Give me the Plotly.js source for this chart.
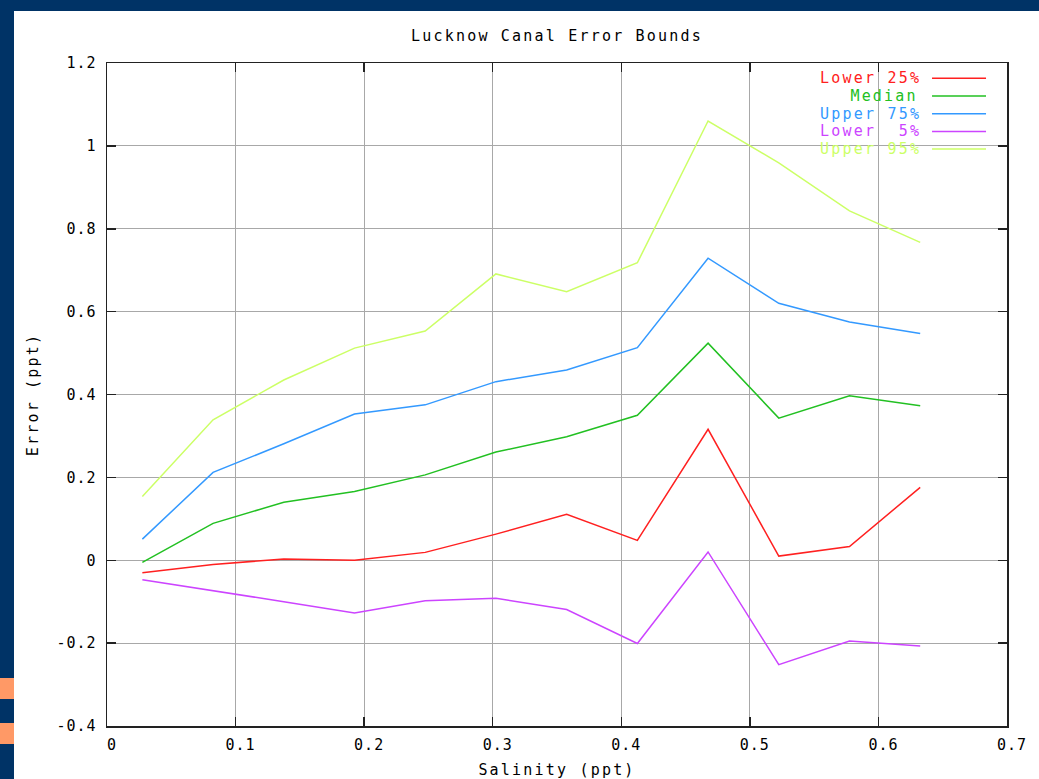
<!DOCTYPE html>
<html>
<head>
<meta charset="utf-8">
<script src="https://cdn.plot.ly/plotly-3.0.1.min.js"></script>
<style>
  html, body { margin: 0; padding: 0; background: #003366; width: 1039px; height: 779px; overflow: hidden; }
  #frame { position: absolute; left: 14px; top: 11px; width: 1025px; height: 768px; background: #ffffff; }
  .orange { position: absolute; left: 0; width: 14px; background: #ff9966; }
  #chart text { letter-spacing: 2.2px !important; }
  #chart .xtick text, #chart .ytick text, #chart text.xtick, #chart text.ytick { letter-spacing: 1px !important; }
</style>
</head>
<body>
<div class="orange" style="top:678px;height:21px;"></div>
<div class="orange" style="top:723px;height:21px;"></div>
<div id="frame"><div id="chart" style="width:1025px;height:768px;"></div></div>
<script>
// ---- data ----
const salinity = [0.0275, 0.0825, 0.1375, 0.1925, 0.2475, 0.3025, 0.3575, 0.4125, 0.4675, 0.5225, 0.5775, 0.6325];
const lower25  = [-0.030, -0.010, 0.003, 0.000, 0.019, 0.063, 0.111, 0.048, 0.316, 0.010, 0.033, 0.176];
const median   = [-0.005, 0.089, 0.140, 0.166, 0.206, 0.261, 0.298, 0.350, 0.524, 0.343, 0.397, 0.373];
const upper75  = [0.051, 0.212, 0.281, 0.353, 0.375, 0.431, 0.459, 0.513, 0.729, 0.620, 0.575, 0.547];
const lower5   = [-0.047, -0.073, -0.100, -0.127, -0.098, -0.092, -0.119, -0.201, 0.020, -0.252, -0.195, -0.207];
const upper95  = [0.154, 0.339, 0.435, 0.512, 0.553, 0.691, 0.648, 0.718, 1.060, 0.959, 0.843, 0.767];

const seriesNames  = ["Lower 25%", "Median", "Upper 75%", "Lower  5%", "Upper 95%"];
const seriesValues = [lower25, median, upper75, lower5, upper95];
const seriesColors = ["#ff2020", "#22c022", "#3399ff", "#cc44ff", "#ccff66"];

const xTickVals = [0, 0.1, 0.2, 0.3, 0.4, 0.5, 0.6, 0.7];
const xTickText = ["0", "0.1", "0.2", "0.3", "0.4", "0.5", "0.6", "0.7"];
const yTickVals = [-0.4, -0.2, 0, 0.2, 0.4, 0.6, 0.8, 1, 1.2];
const yTickText = ["-0.4", "-0.2", "0", "0.2", "0.4", "0.6", "0.8", "1", "1.2"];

const chartTitle = "Lucknow Canal Error Bounds";
const xTitle = "Salinity (ppt)";
const yTitle = "Error (ppt)";

// ---- build ----
const FONT = "DejaVu Sans Mono, Liberation Mono, monospace";

const traces = seriesNames.map((name, i) => ({
  type: "scatter",
  mode: "lines",
  name: name,
  x: salinity,
  y: seriesValues[i],
  line: { color: seriesColors[i], width: 1.5 },
  showlegend: false,
  hoverinfo: "skip"
}));

// custom gnuplot-style legend (text right-aligned, sample line on the right)
const legTop = 0.9769, legStep = 0.0267;
const annotations = [];
const shapes = [{
  type: "rect", xref: "paper", yref: "paper", layer: "between",
  x0: 0.781, x1: 0.9965, y0: 0.858, y1: 0.999,
  fillcolor: "#ffffff", line: { width: 0 }
}];
seriesNames.forEach((name, i) => {
  const yy = legTop - i * legStep;
  annotations.push({
    xref: "paper", yref: "paper", x: 0.8955, y: yy,
    xanchor: "right", yanchor: "middle", showarrow: false,
    text: name.replace(/ /g, "&nbsp;"),
    font: { family: FONT, size: 15, color: seriesColors[i] }
  });
  shapes.push({
    type: "line", xref: "paper", yref: "paper", layer: "above",
    x0: 0.9167, x1: 0.9767, y0: yy, y1: yy,
    line: { color: seriesColors[i], width: 1.5 }
  });
});

const axisCommon = {
  showgrid: true, gridcolor: "#a8a8a8", gridwidth: 1,
  zeroline: false,
  showline: true, linecolor: "#222222", linewidth: 1.5, mirror: "ticks",
  ticks: "inside", ticklen: 9, tickwidth: 1.5, tickcolor: "#222222",
  tickfont: { family: FONT, size: 15, color: "#000000" },
  tickmode: "array"
};

const layout = {
  width: 1025, height: 768,
  margin: { l: 93, r: 32, t: 52, b: 53 },
  paper_bgcolor: "#ffffff", plot_bgcolor: "#ffffff",
  showlegend: false,
  title: {
    text: chartTitle,
    font: { family: FONT, size: 15, color: "#000000" },
    x: 0.5, xref: "paper", xanchor: "center",
    y: 1 - 25 / 768, yref: "container", yanchor: "middle"
  },
  xaxis: Object.assign({}, axisCommon, {
    range: [0, 0.7],
    tickvals: xTickVals, ticktext: xTickText,
    ticklabelshift: 5, ticklabelstandoff: 4,
    title: { text: xTitle, font: { family: FONT, size: 15, color: "#000000" }, standoff: 12 }
  }),
  yaxis: Object.assign({}, axisCommon, {
    range: [-0.4, 1.2],
    tickvals: yTickVals, ticktext: yTickText,
    ticklabelstandoff: 6,
    title: { text: yTitle, font: { family: FONT, size: 15, color: "#000000" }, standoff: 18 }
  }),
  annotations: annotations,
  shapes: shapes
};

Plotly.newPlot("chart", traces, layout, { staticPlot: true, displayModeBar: false });
</script>
</body>
</html>
